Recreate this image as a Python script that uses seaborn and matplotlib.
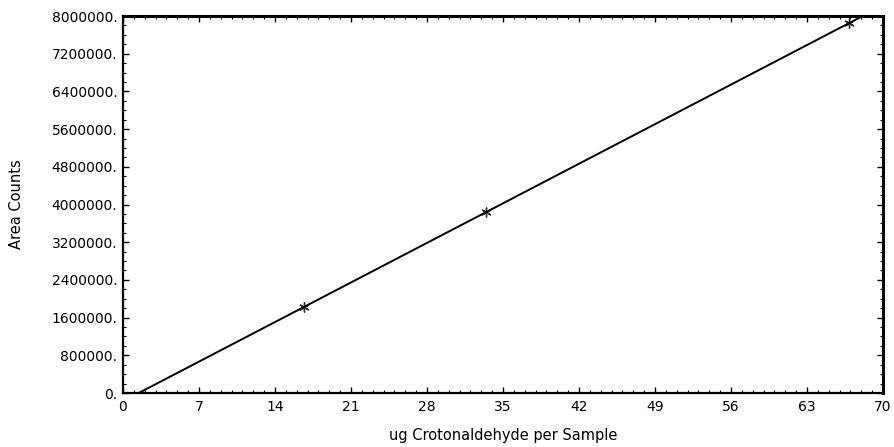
import matplotlib
matplotlib.use("Agg")
import matplotlib.pyplot as plt
import seaborn as sns
import numpy as np
import pandas as pd
from matplotlib.ticker import MultipleLocator, FixedLocator

# Data
ug_per_sample = [16.7, 33.4, 66.9]
area_counts = [1825000, 3840000, 7850000]
x_ticks = [0, 7, 14, 21, 28, 35, 42, 49, 56, 63, 70]
y_ticks = [0, 800000, 1600000, 2400000, 3200000, 4000000, 4800000, 5600000, 6400000, 7200000, 8000000]
y_tick_labels = ["0.", "800000.", "1600000.", "2400000.", "3200000.", "4000000.",
                 "4800000.", "5600000.", "6400000.", "7200000.", "8000000."]

df = pd.DataFrame({"ug": ug_per_sample, "area": area_counts})

sns.set_theme(style="ticks")
plt.rcParams['font.family'] = ['DejaVu Sans']
plt.rcParams['text.color'] = 'black'
plt.rcParams['axes.labelcolor'] = 'black'

fig = plt.figure(figsize=(8.95, 4.47), dpi=100)
ax = fig.add_axes([0.1374, 0.1208, 0.8492, 0.8434])
ax.set_xlim(0, 70)
ax.set_ylim(0, 8000000)

sns.regplot(data=df, x="ug", y="area", ax=ax, ci=None, truncate=False,
            color="black", marker=(6, 2, 0),
            scatter_kws={"s": 45, "linewidths": 1.0},
            line_kws={"linewidth": 1.4})

ax.set_xlim(0, 70)
ax.set_ylim(0, 8000000)
ax.xaxis.set_major_locator(FixedLocator(x_ticks))
ax.xaxis.set_minor_locator(MultipleLocator(1))
ax.yaxis.set_major_locator(FixedLocator(y_ticks))
ax.yaxis.set_minor_locator(MultipleLocator(200000))
ax.set_xticklabels([str(t) for t in x_ticks])
ax.set_yticklabels(y_tick_labels)

ax.tick_params(which="both", direction="in", top=True, right=True, colors="black",
               labelcolor="black", labelsize=10)
ax.tick_params(which="major", length=4, width=1.0)
ax.tick_params(which="minor", length=2.5, width=0.8)
ax.tick_params(axis="y", pad=4)
ax.tick_params(axis="x", pad=5)

for side, sp in ax.spines.items():
    sp.set_visible(True)
    sp.set_color("black")
    sp.set_linewidth(1.6)
ax.spines["top"].set_linewidth(2.2)
ax.spines["right"].set_linewidth(2.2)

ax.set_xlabel("ug Crotonaldehyde per Sample", fontsize=10.5, labelpad=10, color="black")
ax.set_ylabel("Area Counts", fontsize=10.5, labelpad=20, color="black")

fig.savefig("out.png", dpi=100)
